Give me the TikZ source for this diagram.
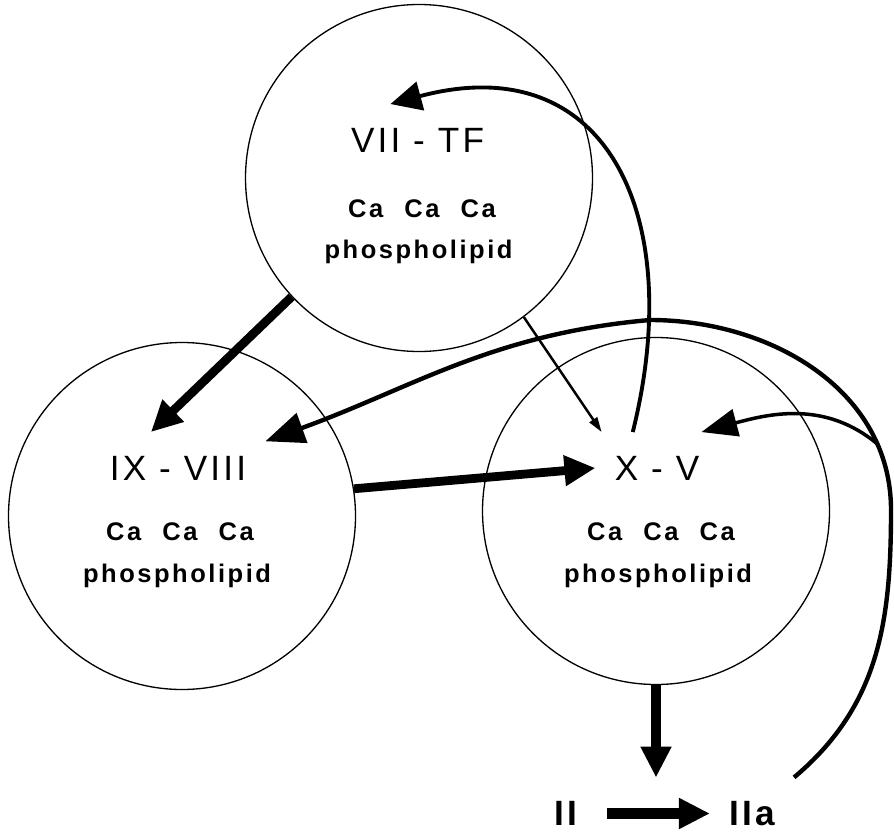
\documentclass[tikz,border=0pt]{standalone}
\usepackage{fontspec}
\setmainfont{Liberation Sans}
\newfontfamily\factorfont[LetterSpace=9]{Liberation Sans}
\newfontfamily\cofactorfont[LetterSpace=10,WordSpace=2.2]{Liberation Sans}
\usetikzlibrary{arrows.meta,positioning,calc}

\tikzset{
  stage/.style={circle, draw, line width=0.75pt, minimum size=6.94cm, inner sep=0pt},
  factor/.style={font=\factorfont\fontsize{20}{24}\selectfont, inner xsep=0.38cm, inner ysep=0.47cm},
  product/.style={factor, font=\factorfont\bfseries\fontsize{20}{24}\selectfont},
  cofactor/.style={font=\cofactorfont\bfseries\fontsize{14.5}{17}\selectfont, anchor=base, inner sep=0pt},
  heavy/.style={line width=5pt, -{Triangle[length=0.62cm,width=0.58cm]}},
  weak/.style={line width=1.4pt, -{Triangle[length=0.3cm,width=0.18cm]}},
  feedback/.style={line width=#1, -{Triangle[length=0.62cm,width=0.58cm]}},
}

\begin{document}
\begin{tikzpicture}
    \useasboundingbox (0,0) rectangle (17.88,16.7);

    % Complexes
    \node[stage] (tf) at (8.38,13.14) {};
    \node[stage] (ix) at (3.64,6.38) {};
    \node[stage] (xv) at (13.12,6.48) {};

    % Labels
    \node[factor] (tfname) at (8.35,13.9) {VII - TF};
    \node[factor] (ixname) at (3.56,7.34) {IX - VIII};
    \node[factor] (xvname) at (13.14,7.34) {X - V};
    \node[cofactor] at (8.44,12.36) {Ca Ca Ca};
    \node[cofactor] at (8.37,11.54) {phospholipid};
    \node[cofactor] at (3.6,5.9) {Ca Ca Ca};
    \node[cofactor] at (3.54,5.06) {phospholipid};
    \node[cofactor] at (13.22,5.9) {Ca Ca Ca};
    \node[cofactor] at (13.16,5.06) {phospholipid};
    \node[product] (ii) at (11.32,0.43) {II};
    \node[product] (iia) at (15.04,0.43) {IIa};

    % Way points of the long feedback curve
    \coordinate (rim) at (17.82,6.5);
    \coordinate (apex) at (13.0,10.3);

    % Arrows
    \draw[heavy] (tf.223) -- (ixname.127);
    \draw[heavy] (ix.9) -- (xvname.west);
    \draw[weak] (tf.-53) -- (xvname.147);
    \draw[heavy, line width=6pt] (xv.south) -- (xv.south |- ii.north);
    \draw[heavy, line width=6pt, shorten <=0.2cm] (ii) -- (iia);
    \draw[feedback=2.2pt] (xvname.124) to[out=76,in=15,looseness=1.4] (tfname.127);
    \draw[feedback=2.5pt, -{Triangle[length=0.78cm,width=0.62cm]}] (iia.north east)
        to[out=40,in=-90] (rim)
        to[out=90,in=0] coordinate[pos=0.2] (fork) (apex)
        to[out=185,in=20] (ixname.17);
    \draw[feedback=2pt, -{Triangle[length=0.72cm,width=0.55cm]}] (fork) to[out=140,in=15] (xvname.39);
\end{tikzpicture}
\end{document}
